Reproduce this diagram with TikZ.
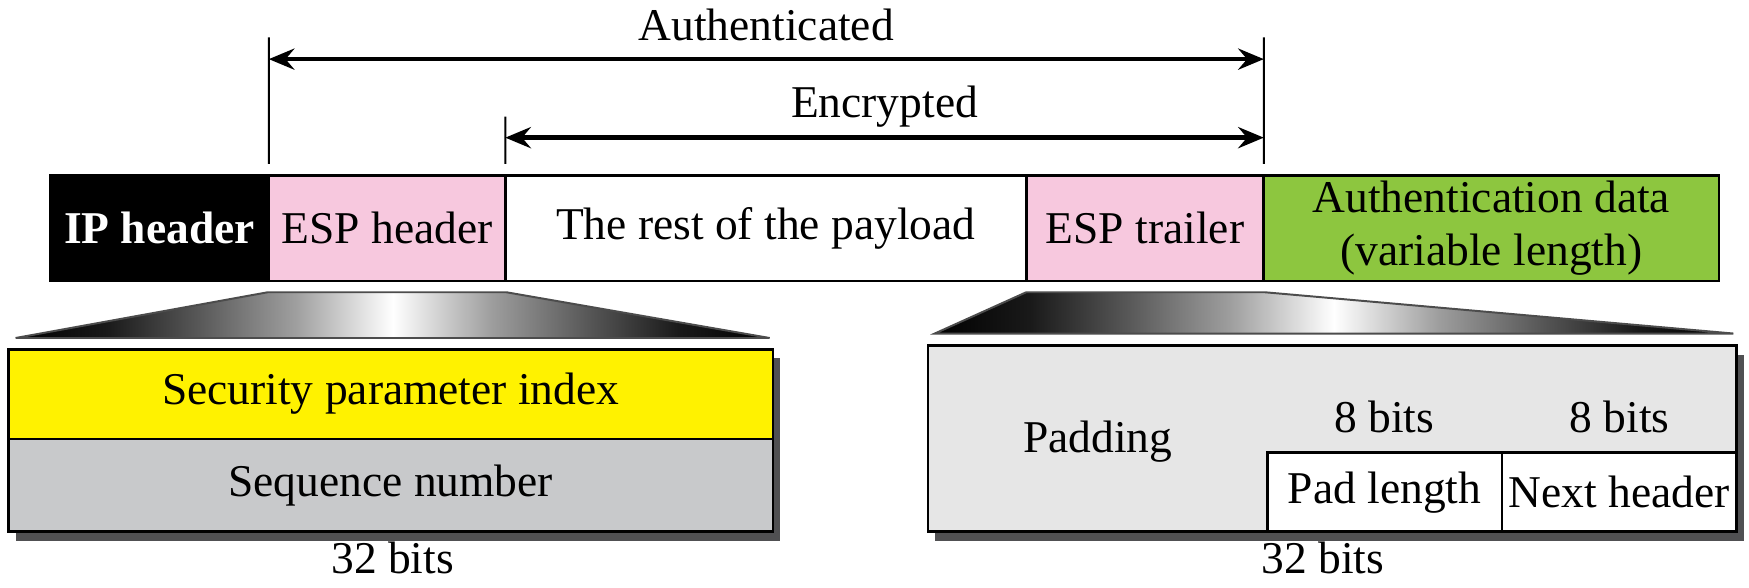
\documentclass[tikz,border=0pt]{standalone}
\usepackage{fontspec}
\setmainfont{Liberation Serif}
\usetikzlibrary{arrows.meta,shadows,calc}

\definecolor{esppink}{RGB}{247,200,222}
\definecolor{authgreen}{RGB}{141,198,63}
\definecolor{spiyellow}{RGB}{255,242,0}
\definecolor{seqgray}{RGB}{200,201,203}
\definecolor{padgray}{RGB}{230,230,230}
\definecolor{shadowgray}{RGB}{80,80,82}

% the path only sees 25bp..75bp of the shading
\pgfdeclarehorizontalshading{fanshade}{100bp}{color(0bp)=(black); color(25bp)=(black); color(31bp)=(black!90); color(37bp)=(black!66); color(43.5bp)=(black!38); color(50bp)=(white); color(56.5bp)=(black!38); color(63bp)=(black!66); color(69bp)=(black!90); color(75bp)=(black); color(100bp)=(black)}

\begin{document}
\begin{tikzpicture}[
    font=\fontsize{11.6}{13.5}\selectfont,
    field/.style={draw=black, line width=0.7pt, outer sep=0pt, inner sep=0pt,
                  minimum height=0.95cm, align=center},
    subfield/.style={draw=black, line width=0.7pt, outer sep=0pt, inner sep=0pt},
    fan/.style={draw=black!70, line width=0.5pt, shading=fanshade},
    tick/.style={line width=0.5pt},
    span/.style={line width=1.2pt, {Stealth[length=2.3mm,width=1.9mm,inset=0.8mm]}-{Stealth[length=2.3mm,width=1.9mm,inset=0.8mm]}},
    boxshadow/.style={drop shadow={shadow xshift=0.065cm, shadow yshift=-0.08cm,
                      fill=shadowgray, opacity=1}}
]
    \useasboundingbox (0,0) rectangle (15.68,5.27);

    % Packet
    \node[field, fill=black, text=white, font=\fontsize{11.6}{13.5}\selectfont\bfseries,
          minimum width=1.96cm] (ip) at (1.43,3.225) {IP header};
    \node[field, fill=esppink, minimum width=2.12cm, anchor=west] (esph) at (ip.east) {ESP header};
    \node[field, fill=white, minimum width=4.67cm, anchor=west] (rest) at (esph.east) {The rest of the payload};
    \node[field, fill=esppink, minimum width=2.13cm, anchor=west] (espt) at (rest.east) {ESP trailer};
    \node[field, fill=authgreen, minimum width=4.08cm, anchor=west] (authd) at (espt.east) {Authentication data\\(variable length)};

    % Authenticated / Encrypted spans
    \coordinate (authL) at (2.41,4.935);
    \coordinate (authR) at (11.33,4.935);
    \coordinate (encL) at (4.53,4.224);
    \draw[tick] (esph.north west) ++(0,0.1) coordinate (authLb) -- (authL);
    \draw[tick] (espt.north east) ++(0,0.1) coordinate (authRb) -- (authR);
    \draw[tick] (rest.north west) ++(0,0.1) coordinate (encLb) -- (encL);
    \coordinate (authA) at (2.41,4.74);
    \coordinate (authB) at (11.33,4.74);
    \coordinate (encA) at (4.53,4.036);
    \coordinate (encB) at (11.33,4.036);
    \draw[span] (authA) -- (authB);
    \draw[span] (encA) -- (encB);
    \node[anchor=base] (authlbl) at (6.87,4.905) {Authenticated};
    \node[anchor=base] (enclbl) at (7.93,4.22) {Encrypted};

    % Fans
    \path[fan] (2.40,2.65) -- (4.54,2.65) -- (6.90,2.24) -- (0.14,2.24) -- cycle;
    \path[fan] (9.20,2.65) -- (11.34,2.65) -- (15.54,2.28) -- (8.38,2.28) -- cycle;

    % ESP header fields
    \node[subfield, boxshadow, fill=seqgray, minimum width=6.855cm, minimum height=1.637cm,
          anchor=north west] (hdrbox) at (0.075,2.14) {};
    \node[subfield, fill=spiyellow, minimum width=6.855cm, minimum height=0.806cm,
          anchor=north west] (spi) at (hdrbox.north west) {Security parameter index};
    \node[anchor=center] (seq) at ($(hdrbox.south)!0.5!(spi.south)$) {Sequence number};
    \node[anchor=base] (hdrbits) at (3.52,0.13) {32 bits};

    % ESP trailer fields
    \node[subfield, boxshadow, fill=padgray, minimum width=7.25cm, minimum height=1.667cm,
          anchor=north west] (trlbox) at (8.32,2.17) {};
    \node[subfield, fill=white, minimum width=2.106cm, minimum height=0.709cm,
          anchor=south west] (padlen) at (11.36,0.503) {Pad length};
    \node[subfield, fill=white, minimum width=2.104cm, minimum height=0.709cm,
          anchor=south west] (nexthdr) at (padlen.south east) {Next header};
    \node (padding) at (9.84,1.31) {Padding};
    \node[anchor=base] (padbits) at (12.41,1.39) {8 bits};
    \node[anchor=base] (nextbits) at (14.52,1.39) {8 bits};
    \node[anchor=base] (trlbits) at (11.86,0.13) {32 bits};
\end{tikzpicture}
\end{document}
